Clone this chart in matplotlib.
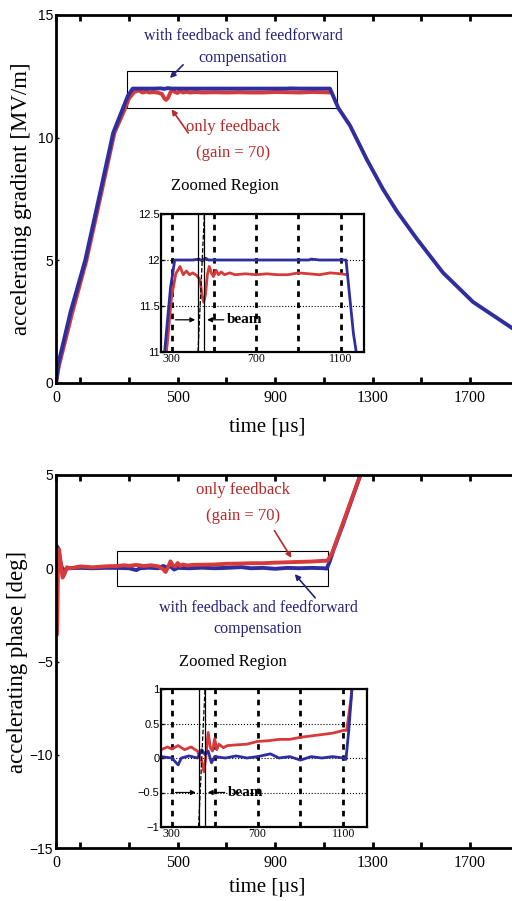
import matplotlib
matplotlib.use('Agg')
import matplotlib.pyplot as plt
from matplotlib.patches import Rectangle

plt.rcParams['font.family'] = ['Liberation Serif', 'DejaVu Serif']

BLUE = '#2e2e9e'
RED = '#d63a3a'
BLUE_TXT = '#23237a'
RED_TXT = '#b52a2a'
SANS = ['Liberation Sans', 'DejaVu Sans']

# gradient [MV/m] vs time [us]
blue_g_t = [0, 10, 60, 120, 180, 235, 275, 295, 315, 400, 430, 445, 460, 475, 500, 700, 950, 960,
            1000, 1125, 1160, 1207, 1277, 1343, 1400, 1480, 1589, 1713, 1873, 2000]
blue_g = [0, 0.8, 2.9, 5.0, 7.7, 10.2, 11.2, 11.7, 12.0, 12.0, 12.01, 11.99, 12.02, 12.0, 12.0, 12.0,
          12.0, 12.01, 12.0, 12.0, 11.2, 10.5, 9.1, 7.9, 7.0, 5.9, 4.5, 3.3, 2.24, 1.65]
red_g_t = [0, 12, 65, 125, 185, 240, 280, 300, 320, 340, 355, 370, 385, 400, 420, 435, 445, 452, 460,
           470, 478, 488, 498, 510, 522, 535, 550, 575, 600, 650, 700, 750, 800, 850, 900, 950, 1000,
           1050, 1100, 1130]
red_g = [0, 0.7, 2.8, 5.0, 7.7, 10.2, 11.1, 11.6, 11.85, 11.93, 11.84, 11.88, 11.84, 11.86, 11.83,
         11.78, 11.6, 11.54, 11.62, 11.85, 11.93, 11.86, 11.82, 11.89, 11.84, 11.87, 11.84, 11.86,
         11.84, 11.85, 11.84, 11.85, 11.84, 11.84, 11.86, 11.85, 11.84, 11.86, 11.85, 11.84]

# phase [deg] vs time [us]
blue_p_t = [0, 3, 8, 15, 25, 35, 50, 100, 150, 200, 250, 300, 330, 345, 380, 420, 440, 455, 470, 485,
            500, 550, 600, 650, 700, 760, 800, 850, 900, 950, 1000, 1050, 1100, 1112, 1125, 1140,
            1180, 1250, 1300]
blue_p = [0, 1.2, 1.1, 0.5, 0.0, -0.1, 0.0, 0.02, 0.0, 0.02, 0.02, 0.0, -0.1, 0.0, 0.03, 0.0, 0.12,
          0.05, 0.1, -0.07, 0.02, 0.0, 0.03, 0.0, 0.02, 0.06, 0.0, 0.02, -0.03, 0.02, 0.0, 0.02, 0.0,
          -0.02, 0.4, 1.0, 2.4, 5.0, 6.8]
red_p_t = [0, 2, 5, 9, 13, 20, 27, 35, 45, 60, 100, 150, 200, 250, 280, 300, 330, 360, 390, 420, 440,
           450, 460, 470, 480, 490, 500, 510, 520, 540, 560, 600, 650, 700, 750, 800, 850, 900, 950,
           1000, 1050, 1100, 1115, 1135, 1250, 1300]
red_p = [0, -3.6, -3.0, 0.9, 1.0, 0.2, -0.5, -0.3, 0.05, 0.0, 0.1, 0.05, 0.1, 0.12, 0.16, 0.13, 0.18,
         0.12, 0.16, 0.1, -0.05, -0.2, 0.05, 0.37, 0.15, 0.1, 0.28, 0.12, 0.2, 0.15, 0.18, 0.19, 0.2,
         0.24, 0.25, 0.27, 0.27, 0.3, 0.32, 0.34, 0.36, 0.4, 0.4, 0.85, 5.0, 6.8]

# axes ticks
main_xticks = [0, 100, 300, 500, 700, 900, 1100, 1300, 1500, 1700, 1900]
main_xlabels = ['0', '', '', '500', '', '900', '', '1300', '', '1700', '']
inset_xticks = [300, 500, 700, 900, 1100]
inset_xlabels = ['300', '', '700', '', '1100']

# zoomed regions and beam window
zoom_box_tg = [290, 1155]
zoom_box_g = [11.2, 12.7]
zoom_box_tp = [250, 1117]
zoom_box_p = [-0.95, 0.9]
beam_t = [425, 455]


def style_main(ax, ylim, yticks):
    ax.set_xlim(0, 2000)
    ax.set_ylim(*ylim)
    ax.set_xticks(main_xticks)
    ax.set_xticklabels(main_xlabels, fontsize=11.5)
    ax.set_yticks(yticks)
    for lab in ax.get_yticklabels():
        lab.set_family(SANS)
        lab.set_fontsize(10)
    ax.tick_params(axis='x', direction='in', length=4, width=2, top=True, pad=5)
    ax.tick_params(axis='y', direction='in', length=2, width=1, pad=2)
    for s in ax.spines.values():
        s.set_linewidth(2)


def style_inset(ax, ylim, yticks, ylabels):
    ax.set_xlim(250, 1210)
    ax.set_ylim(*ylim)
    ax.set_xticks(inset_xticks)
    ax.set_xticklabels(inset_xlabels, fontsize=8.5)
    ax.set_yticks(yticks)
    ax.set_yticklabels(ylabels, fontsize=8, family=SANS)
    ax.tick_params(direction='in', length=2, width=1, pad=1)
    ax.grid(axis='x', color='black', linestyle=(0, (2, 2)), linewidth=2)
    ax.grid(axis='y', color='black', linestyle=':', linewidth=0.8)
    for s in ax.spines.values():
        s.set_linewidth(1.6)
    ax.axvline(beam_t[0], color='black', lw=0.9)
    ax.axvline(beam_t[1], color='black', lw=0.9)
    ax.plot(beam_t, ylim, color='black', lw=0.9, linestyle='--')


def beam_label(ax, y):
    arrow = dict(arrowstyle='-|>', color='black', lw=0.9, mutation_scale=7)
    ax.annotate('', xy=(beam_t[0], y), xytext=(305, y), arrowprops=arrow)
    ax.annotate('', xy=(beam_t[1], y), xytext=(560, y), arrowprops=arrow)
    ax.text(562, y, 'beam', fontsize=11, fontweight='bold', va='center', ha='left')


fig = plt.figure(figsize=(5.12, 9.01), dpi=100)

# ---------- gradient ----------
ax1 = fig.add_axes([56 / 512, 1 - 383 / 901, 487 / 512, 368 / 901])
ax1.plot(red_g_t, red_g, color=RED, lw=2.8)
ax1.plot(blue_g_t, blue_g, color=BLUE, lw=2.8)
style_main(ax1, (0, 15), [0, 5, 10, 15])
ax1.add_patch(Rectangle((zoom_box_tg[0], zoom_box_g[0]), zoom_box_tg[1] - zoom_box_tg[0],
                        zoom_box_g[1] - zoom_box_g[0], fill=False, lw=0.8, color='black'))
ax1.text(768, 13.7, 'with feedback and feedforward\ncompensation', color=BLUE_TXT,
         fontsize=11.5, ha='center', va='center', linespacing=1.45)
ax1.annotate('', xy=(460, 12.35), xytext=(530, 13.05),
             arrowprops=dict(arrowstyle='-|>', color=BLUE_TXT, lw=1.2, mutation_scale=8))
ax1.text(727, 9.9, 'only feedback\n(gain = 70)', color=RED_TXT, fontsize=12,
         ha='center', va='center', linespacing=1.8)
ax1.annotate('', xy=(468, 11.25), xytext=(550, 10.1),
             arrowprops=dict(arrowstyle='-|>', color=RED_TXT, lw=1.2, mutation_scale=8))
ax1.text(694, 8.03, 'Zoomed Region', fontsize=12, ha='center', va='center')
ax1.set_ylabel('accelerating gradient [MV/m]', fontsize=16.5)
ax1.yaxis.set_label_coords(-0.05, 0.5)
ax1.set_xlabel('time [µs]', fontsize=15)
ax1.xaxis.label.set_va('center')
ax1.xaxis.set_label_coords(0.433, -0.122)

in1 = fig.add_axes([161 / 512, 1 - 352 / 901, 203 / 512, 138 / 901])
in1.plot(red_g_t, red_g, color=RED, lw=2)
in1.plot(blue_g_t, blue_g, color=BLUE, lw=2)
style_inset(in1, (11, 12.5), [11, 11.5, 12, 12.5], ['11', '11.5', '12', '12.5'])
beam_label(in1, 11.35)

# ---------- phase ----------
ax2 = fig.add_axes([56 / 512, 1 - 848 / 901, 487 / 512, 373 / 901])
ax2.plot(blue_p_t, blue_p, color=BLUE, lw=2.8)
ax2.plot(red_p_t, red_p, color=RED, lw=2.8)
style_main(ax2, (-15, 5), [-15, -10, -5, 0, 5])
ax2.add_patch(Rectangle((zoom_box_tp[0], zoom_box_p[0]), zoom_box_tp[1] - zoom_box_tp[0],
                        zoom_box_p[1] - zoom_box_p[0], fill=False, lw=0.8, color='black'))
ax2.text(768, 3.5, 'only feedback\n(gain = 70)', color=RED_TXT, fontsize=12,
         ha='center', va='center', linespacing=1.8)
ax2.annotate('', xy=(973, 0.43), xytext=(891, 2.14),
             arrowprops=dict(arrowstyle='-|>', color=RED_TXT, lw=1.2, mutation_scale=8))
ax2.text(830, -2.7, 'with feedback and feedforward\ncompensation', color=BLUE_TXT,
         fontsize=11.5, ha='center', va='center', linespacing=1.45)
ax2.annotate('', xy=(973, -0.2), xytext=(1072, -1.7),
             arrowprops=dict(arrowstyle='-|>', color=BLUE_TXT, lw=1.2, mutation_scale=8))
ax2.text(727, -5.0, 'Zoomed Region', fontsize=12, ha='center', va='center')
ax2.set_ylabel('accelerating phase [deg]', fontsize=16.5)
ax2.yaxis.set_label_coords(-0.058, 0.5)
ax2.set_xlabel('time [µs]', fontsize=15)
ax2.xaxis.label.set_va('center')
ax2.xaxis.set_label_coords(0.433, -0.105)

in2 = fig.add_axes([161 / 512, 1 - 827 / 901, 206 / 512, 138 / 901])
in2.plot(red_p_t, red_p, color=RED, lw=2)
in2.plot(blue_p_t, blue_p, color=BLUE, lw=2)
style_inset(in2, (-1, 1), [-1, -0.5, 0, 0.5, 1], ['\u22121', '\u22120.5', '0', '0.5', '1'])
beam_label(in2, -0.5)

fig.savefig('out.png', dpi=100)
